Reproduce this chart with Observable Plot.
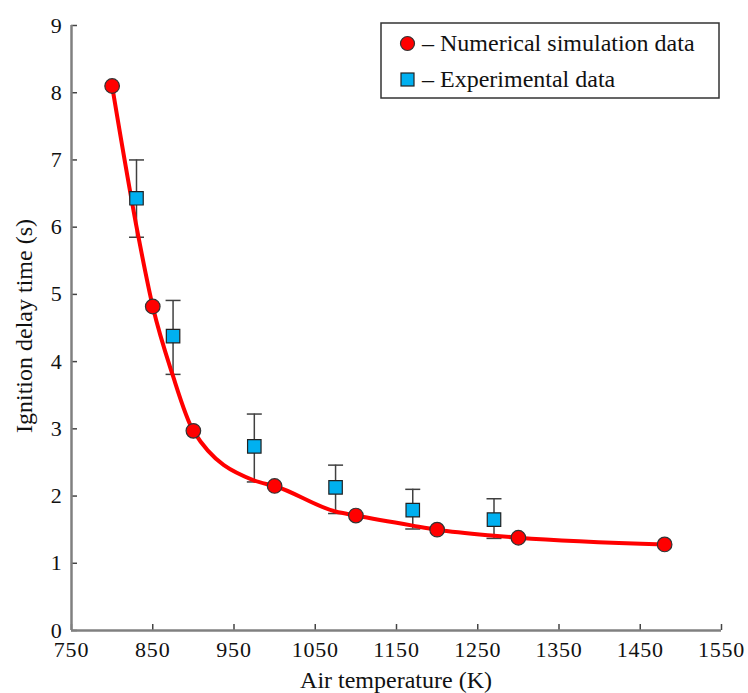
<!DOCTYPE html>
<html><head><meta charset="utf-8">
<script src="https://cdn.jsdelivr.net/npm/d3@7"></script>
<script src="https://cdn.jsdelivr.net/npm/@observablehq/plot@0.6"></script>
<style>
body{margin:0;background:#fff;}
#chart{position:relative;width:748px;height:693px;}
</style>
</head><body><div id="chart"></div>
<script>
// Numerical simulation data (red circles)
const simT   = [800, 850, 900, 1000, 1100, 1200, 1300, 1480];
const simTau = [8.10, 4.82, 2.97, 2.15, 1.71, 1.50, 1.38, 1.28];

// Experimental data (blue squares) with error bars
const expT    = [830, 875, 975, 1075, 1170, 1270];
const expTau  = [6.43, 4.38, 2.74, 2.13, 1.79, 1.65];
const expLow  = [5.85, 3.81, 2.21, 1.74, 1.51, 1.37];
const expHigh = [7.00, 4.91, 3.22, 2.46, 2.10, 1.96];

// Fitted red curve
const fitT   = [800, 832, 850, 874, 900, 975, 1000, 1075, 1100, 1170, 1200, 1270, 1300, 1480];
const fitTau = [8.10, 5.88, 4.82, 3.82, 2.97, 2.23, 2.15, 1.77, 1.71, 1.56, 1.50, 1.41, 1.38, 1.28];

const xTicks = [750, 850, 950, 1050, 1150, 1250, 1350, 1450, 1550];
const yTicks = [0, 1, 2, 3, 4, 5, 6, 7, 8, 9];

const xLabel = "Air temperature (K)";
const yLabel = "Ignition delay time (s)";
const legendLabels = ["– Numerical simulation data", "– Experimental data"];

const sim = simT.map((t, i) => ({t, tau: simTau[i]}));
const exp = expT.map((t, i) => ({t, tau: expTau[i], lo: expLow[i], hi: expHigh[i]}));
const fit = fitT.map((t, i) => ({t, tau: fitTau[i]}));

const FONT = "'Liberation Serif', 'Times New Roman', 'DejaVu Serif', serif";
const RED = "#ff0000";
const BLUE = "#00b0f0";

// horizontal cap symbol for error bars
const capSymbol = {
  draw(ctx, size) {
    const w = Math.sqrt(size / Math.PI);
    ctx.moveTo(-w, 0);
    ctx.lineTo(w, 0);
  }
};

const plot = Plot.plot({
  width: 748,
  height: 693,
  marginLeft: 71,
  marginRight: 27,
  marginTop: 25,
  marginBottom: 63,
  x: {domain: [750, 1550]},
  y: {domain: [0, 9]},
  style: {fontFamily: FONT, fontSize: "22px", color: "#111", background: "#fff"},
  marks: [
    Plot.axisX(xTicks, {tickSize: -6, tickPadding: 17, tickFormat: d => String(d), stroke: "#444", strokeWidth: 1.5, label: null, fontSize: 22, fill: "#111"}),
    Plot.axisY(yTicks, {tickSize: -6, tickPadding: 15, tickFormat: d => String(d), stroke: "#444", strokeWidth: 1.5, label: null, fontSize: 22, fill: "#111"}),
    Plot.ruleY([0], {stroke: "#808080", strokeWidth: 2.5}),
    Plot.ruleX([750], {stroke: "#808080", strokeWidth: 2.5}),
    Plot.ruleX(exp, {x: "t", y1: "lo", y2: "hi", stroke: "#404040", strokeWidth: 1.5}),
    Plot.dot(exp, {x: "t", y: "lo", symbol: capSymbol, r: 7.5, stroke: "#404040", strokeWidth: 1.5, fill: "none"}),
    Plot.dot(exp, {x: "t", y: "hi", symbol: capSymbol, r: 7.5, stroke: "#404040", strokeWidth: 1.5, fill: "none"}),
    Plot.line(fit, {x: "t", y: "tau", curve: "monotone-x", stroke: RED, strokeWidth: 4}),
    Plot.dot(exp, {x: "t", y: "tau", symbol: "square", r: 7.6, fill: BLUE, stroke: "#222", strokeWidth: 1.2}),
    Plot.dot(sim, {x: "t", y: "tau", symbol: "circle", r: 7.3, fill: RED, stroke: "#333", strokeWidth: 1.2})
  ]
});

document.getElementById("chart").appendChild(plot);

const svg = d3.select(plot);
svg.selectAll("g[aria-label='x-axis tick label'] text, g[aria-label='y-axis tick label'] text")
  .style("letter-spacing", "0.8px");

// axis titles
svg.append("text")
  .attr("transform", "translate(32,326) rotate(-90)")
  .attr("text-anchor", "middle")
  .style("font-family", FONT).style("font-size", "24px").attr("fill", "#111")
  .text(yLabel);
svg.append("text")
  .attr("x", 396).attr("y", 688)
  .attr("text-anchor", "middle")
  .style("font-family", FONT).style("font-size", "24px").attr("fill", "#111")
  .text(xLabel);

// legend
const lg = svg.append("g");
lg.append("rect").attr("x", 381).attr("y", 23).attr("width", 338).attr("height", 75)
  .attr("fill", "#fff").attr("stroke", "#333").attr("stroke-width", 1.5);
lg.append("circle").attr("cx", 407.5).attr("cy", 43.5).attr("r", 7)
  .attr("fill", RED).attr("stroke", "#333").attr("stroke-width", 1.2);
lg.append("rect").attr("x", 401).attr("y", 73).attr("width", 13).attr("height", 13)
  .attr("fill", BLUE).attr("stroke", "#222").attr("stroke-width", 1.2);
legendLabels.forEach((s, i) => {
  lg.append("text").attr("x", 422).attr("y", i === 0 ? 51 : 87)
    .attr("text-anchor", "start")
    .style("font-family", FONT).style("font-size", "24px").attr("fill", "#111")
    .text(s);
});
</script>
</body></html>
